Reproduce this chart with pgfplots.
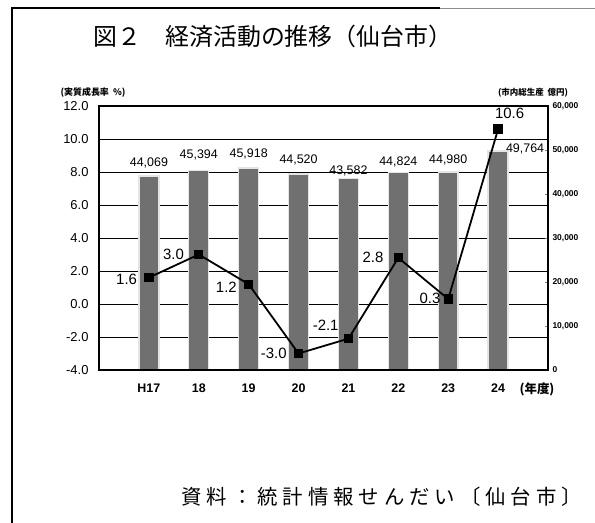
\documentclass[border=0pt]{standalone}
\usepackage{fontspec}
\setmainfont{Liberation Sans}
\newfontfamily\jp{Noto Sans CJK JP}
\usepackage{pgfplots}
\usepackage{pgfplotstable}
\pgfplotsset{compat=1.18}

% 市内総生産 (億円), with label offsets
\pgfplotstableread{
x gdp dx dy
0 44069 0 6
1 45394 0 8
2 45918 0 7
3 44520 0 7
4 43582 0 0
5 44824 0 4
6 44980 0 5
7 49764 27 -5
}\gdptable

% 実質成長率 (%), with label offsets
\pgfplotstableread{
x rate dx dy
0 1.6 -10 -2
1 3.0 -13 0
2 1.2 -10 -3
3 -3.0 -10 0
4 -2.1 -8 13
5 2.8 -13 0
6 0.3 -6 1
7 10.6 28 16
}\ratetable

\pgfplotsset{
  base/.style={
    at={(99bp,153bp)}, anchor=south west,
    scale only axis, width=449bp, height=264bp,
    xmin=-1, xmax=8,
  },
}

\begin{document}
\begin{tikzpicture}
\useasboundingbox (0,0) rectangle (595bp,523bp);
\draw[line width=1.4pt] (12bp,0) -- (12bp,515bp) -- (440bp,515bp);
\draw[line width=0.5pt, black!45] (440bp,515bp) -- (595bp,515bp);

% left axis: grid, ticks, frame
\begin{axis}[base,
  ymin=-4, ymax=12,
  ytick={-4,-2,...,12},
  ymajorgrids, grid style={black, line width=0.6pt},
  major tick length=0pt,
  xtick={0,...,7},
  xticklabels={H17,18,19,20,21,22,23,24},
  axis line style={line width=1.2pt},
  /pgf/number format/assume math mode=true,
  /pgf/number format/.cd, fixed, fixed zerofill, precision=1,
  /pgfplots/.cd,
  yticklabel style={font=\fontsize{13}{13}\selectfont, xshift=-7bp},
  xticklabel style={font=\fontsize{12.5}{12.5}\bfseries, yshift=-10bp},
]
\end{axis}

% right axis: bars
\begin{axis}[base,
  ymin=0, ymax=60000,
  axis y line*=right, axis x line=none,
  ytick={0,10000,...,60000},
  scaled y ticks=false,
  /pgf/number format/assume math mode=true,
  /pgf/number format/1000 sep={,},
  yticklabel style={font=\fontsize{8.5}{8.5}\bfseries, xshift=1bp},
  major tick length=3bp,
  ytick style={line width=0.6pt},
  axis line style={line width=1.2pt},
]
\addplot[ybar, bar width=0.4, fill=black!56, draw=black!10, line width=1.4pt,
  nodes near coords, point meta=y,
  visualization depends on={\thisrow{dx}\as\dx},
  visualization depends on={\thisrow{dy}\as\dy},
  every node near coord/.append style={font=\fontsize{12.5}{12.5}\selectfont,
    black, xshift=\dx bp, yshift=\dy bp, inner sep=1pt}]
  table[x=x, y=gdp] {\gdptable};
\end{axis}

% left axis again: line on top of bars
\begin{axis}[base,
  ymin=-4, ymax=12,
  xtick=\empty, ytick=\empty,
  axis line style={line width=1.2pt},
  clip=false,
  /pgf/number format/assume math mode=true,
  /pgf/number format/.cd, fixed, fixed zerofill, precision=1,
  /pgfplots/.cd,
]
\addplot[black, line width=1.8pt, mark=square*, mark size=3.8pt,
  mark options={solid},
  nodes near coords, point meta=y,
  visualization depends on={\thisrow{dx}\as\dx},
  visualization depends on={\thisrow{dy}\as\dy},
  every node near coord/.append style={font=\fontsize{15}{15}\selectfont,
    anchor=east, xshift=\dx bp, yshift=\dy bp, inner sep=1pt}]
  table[x=x, y=rate] {\ratetable};
\end{axis}

\node[font=\jp\fontsize{24}{24}\selectfont] at (273bp,487bp) {図２　経済活動の推移（仙台市）};
\node[font=\jp\fontsize{9}{9}\bfseries] at (93bp,430bp) {(実質成長率\ \ \%)};
\node[font=\jp\fontsize{8.5}{8.5}\bfseries] at (533bp,430bp) {(市内総生産\ \ 億円)};
\node[font=\jp\fontsize{12.5}{12.5}\bfseries] at (537bp,134bp) {(年度)};
\node[font=\jp\fontsize{20.5}{20.5}\selectfont\addfontfeature{LetterSpace=24}, anchor=east, inner sep=0pt] at (582bp,26bp) {資料：統計情報せんだい〔仙台市〕};
\end{tikzpicture}
\end{document}
